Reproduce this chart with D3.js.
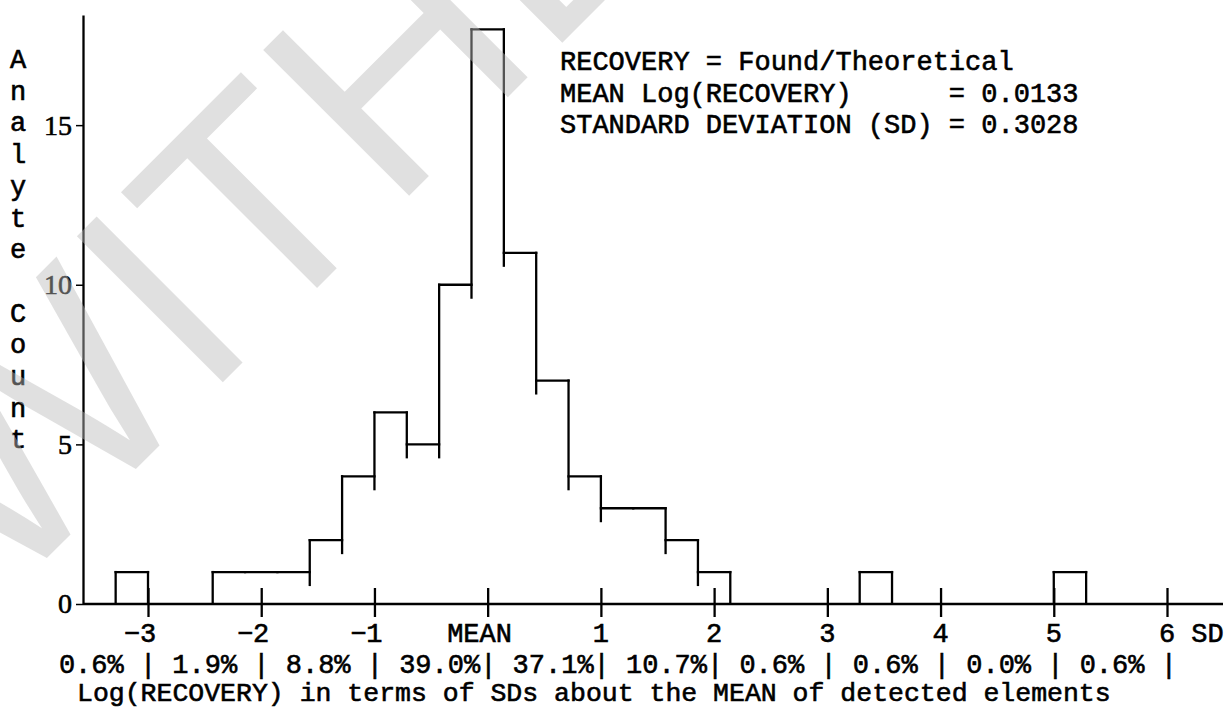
<!DOCTYPE html>
<html>
<head>
<meta charset="utf-8">
<script src="https://cdn.jsdelivr.net/npm/d3@7"></script>
<style>
  html, body { margin: 0; padding: 0; background: #fff; }
  svg { display: block; }
  text { white-space: pre; }
  .ink { stroke: #000; stroke-width: 0.6px; fill: #000; }
</style>
</head>
<body>
<div id="chart-area"></div>
<script>
// histogram counts, one per bin (bins are 2/7 SD wide, first bin starts at -23/7 SD)
const counts = [1, 0, 0, 1, 1, 1, 2, 4, 6, 5, 10, 18, 11, 7, 4, 3, 3, 2, 1, 0, 0, 0, 0, 1, 0, 0, 0, 0, 0, 1];
const BIN_START = -23 / 7,
    BIN_WIDTH = 2 / 7;

const xTickValues = [-3, -2, -1, 0, 1, 2, 3, 4, 5, 6];
const xTickLabels = ["\u22123", "\u22122", "\u22121", "MEAN", "1", "2", "3", "4", "5", "6"];
const yTickValues = [0, 5, 10, 15];
const pctLabels = ["0.6%", "1.9%", "8.8%", "39.0%", "37.1%", "10.7%", "0.6%", "0.6%", "0.0%", "0.6%"];
const infoLines = [
    "RECOVERY = Found/Theoretical",
    "MEAN Log(RECOVERY)      = 0.0133",
    "STANDARD DEVIATION (SD) = 0.3028"
];
const yLabel = "Analyte Count";
const xTitle = "Log(RECOVERY) in terms of SDs about the MEAN of detected elements";

const WIDTH = 1227,
    HEIGHT = 710,
    MONO = "'Liberation Mono', 'DejaVu Sans Mono', monospace",
    SERIF = "'Liberation Serif', 'DejaVu Serif', serif",
    FONT_SIZE = 27,
    CHAR_W = FONT_SIZE * 0.6,
    LINE_H = 31.7,
    STROKE = 2.3,
    STEP_TAIL = 14; // vertical edges run a bit past the lower step

const svg = d3.select("#chart-area")
    .append("svg")
    .attr("width", WIDTH)
    .attr("height", HEIGHT)
    .attr("viewBox", [0, 0, WIDTH, HEIGHT]);

const x = d3.scaleLinear().domain([-3, 6]).range([148, 1167]);
const y = d3.scaleLinear().domain([0, 18.45]).range([604, 15]);

const AXIS_LEFT = 83,
    AXIS_RIGHT = 1223;

// y axis
const yAxis = svg.append("g")
    .attr("transform", `translate(${AXIS_LEFT},0)`)
    .call(d3.axisLeft(y).tickValues(yTickValues).tickSize(7).tickPadding(4).tickSizeOuter(0));
yAxis.select(".domain").attr("stroke", "#000").attr("stroke-width", STROKE);
yAxis.selectAll(".tick line").attr("stroke", "#000").attr("stroke-width", 1.5);
yAxis.selectAll(".tick text")
    .attr("class", "ink")
    .attr("font-family", SERIF)
    .attr("font-size", 28);

// baseline
svg.append("line")
    .attr("x1", AXIS_LEFT).attr("x2", AXIS_RIGHT)
    .attr("y1", y(0)).attr("y2", y(0))
    .attr("stroke", "#000").attr("stroke-width", STROKE);

// x ticks crossing the baseline
const xAxis = svg.append("g")
    .attr("transform", `translate(0,${y(0)})`)
    .call(d3.axisBottom(x).tickValues(xTickValues).tickSize(13).tickFormat(""));
xAxis.select(".domain").remove();
xAxis.selectAll(".tick line")
    .attr("y1", -16)
    .attr("stroke", "#000")
    .attr("stroke-width", STROKE);

// tick labels, typewriter style: middle character sits on the tick
svg.append("g")
    .selectAll("text")
    .data(xTickValues)
    .join("text")
    .attr("class", "ink")
    .attr("x", (d, i) => x(d) - (Math.floor(xTickLabels[i].length / 2) + 0.5) * CHAR_W)
    .attr("y", 642)
    .attr("font-family", MONO)
    .attr("font-size", FONT_SIZE)
    .text((d, i) => xTickLabels[i]);

svg.append("text")
    .attr("class", "ink")
    .attr("x", x(6) + 1.5 * CHAR_W)
    .attr("y", 642)
    .attr("font-family", MONO)
    .attr("font-size", FONT_SIZE)
    .text("SD");

// percentages row, the bars fall on the ticks
const pctRow = pctLabels.map(p => p.padEnd(5, " ") + "| ").join("").trimEnd();
svg.append("text")
    .attr("class", "ink")
    .attr("x", x(xTickValues[0]) - 5.5 * CHAR_W)
    .attr("y", 673)
    .attr("font-family", MONO)
    .attr("font-size", FONT_SIZE)
    .text(pctRow);

svg.append("text")
    .attr("class", "ink")
    .attr("x", 77)
    .attr("y", 701)
    .attr("font-family", MONO)
    .attr("font-size", 26.5)
    .text(xTitle);

// stacked y label
svg.append("g")
    .selectAll("text")
    .data(yLabel.split(""))
    .join("text")
    .attr("class", "ink")
    .attr("x", 18)
    .attr("y", (d, i) => 68 + i * LINE_H)
    .attr("text-anchor", "middle")
    .attr("font-family", MONO)
    .attr("font-size", FONT_SIZE)
    .text(d => d);

// info block
svg.append("g")
    .selectAll("text")
    .data(infoLines)
    .join("text")
    .attr("class", "ink")
    .attr("x", 560)
    .attr("y", (d, i) => 70 + i * LINE_H)
    .attr("font-family", MONO)
    .attr("font-size", FONT_SIZE)
    .text(d => d);

// histogram as steps
const bins = counts.map((c, i) => ({
    x0: BIN_START + i * BIN_WIDTH,
    x1: BIN_START + (i + 1) * BIN_WIDTH,
    count: c
}));

const hist = svg.append("g")
    .attr("stroke", "#000")
    .attr("stroke-width", STROKE)
    .attr("stroke-linecap", "square");

hist.selectAll("line.top")
    .data(bins.filter(b => b.count > 0))
    .join("line")
    .attr("class", "top")
    .attr("x1", d => x(d.x0))
    .attr("x2", d => x(d.x1))
    .attr("y1", d => y(d.count))
    .attr("y2", d => y(d.count));

const edges = [];
bins.forEach((b, i) => {
    const left = i > 0 ? bins[i - 1].count : 0;
    if (left !== b.count) edges.push({ at: b.x0, hi: Math.max(left, b.count), lo: Math.min(left, b.count) });
});
const last = bins[bins.length - 1];
if (last.count > 0) edges.push({ at: last.x1, hi: last.count, lo: 0 });

hist.selectAll("line.edge")
    .data(edges)
    .join("line")
    .attr("class", "edge")
    .attr("stroke-linecap", "butt")
    .attr("x1", d => x(d.at))
    .attr("x2", d => x(d.at))
    .attr("y1", d => y(d.hi) - STROKE / 2)
    .attr("y2", d => Math.min(y(d.lo) + (d.lo > 0 ? STEP_TAIL : 0), y(0)));

// watermark over everything
svg.append("text")
    .attr("transform", "translate(3,602) rotate(-45)")
    .attr("font-family", "'Liberation Sans', Arial, sans-serif")
    .attr("font-size", 300)
    .attr("fill", "#bbb")
    .attr("fill-opacity", 0.45)
    .style("pointer-events", "none")
    .text("WITHDRAWN");
</script>
</body>
</html>
